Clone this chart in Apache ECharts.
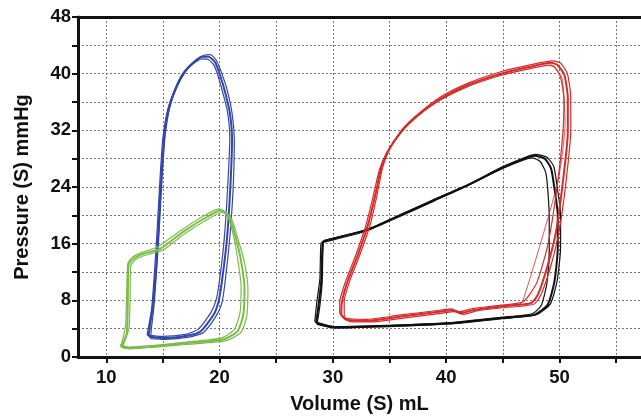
<!DOCTYPE html>
<html>
<head>
<meta charset="utf-8">
<script src="https://cdn.jsdelivr.net/npm/echarts@6/dist/echarts.min.js"></script>
<style>
  html, body { margin: 0; padding: 0; background: #fff; }
  #chart { width: 641px; height: 419px; }
</style>
</head>
<body>
<div id="chart"></div>
<script>
// PV loops, [volume mL, pressure mmHg], several cycles each
let blueLoop1 = [[13.73,2.9],[15.06,2.67],[17.12,3.0],[18.3,3.6],[19.47,5.95],[19.9,7.8],[20.2,10.6],[20.65,16.7],[20.94,23.75],[21.1,30.8],[20.9,34.5],[20.5,37.3],[20.06,39.7],[19.6,41.6],[19.03,42.4],[18.45,42.4],[17.7,41.6],[16.82,40.1],[16.1,37.8],[15.5,35.0],[15.12,31.2],[14.92,27.0],[14.7,21.4],[14.53,15.8],[14.32,11.1],[14.09,6.9],[13.82,4.1],[13.73,2.9]];
let blueLoop2 = [[13.9,2.6],[15.2,2.5],[17.3,2.8],[18.6,3.5],[19.7,5.8],[20.2,7.6],[20.5,10.8],[20.9,16.9],[21.2,23.9],[21.3,30.5],[21.1,34.4],[20.7,37.5],[20.2,40.0],[19.7,41.9],[19.2,42.7],[18.6,42.6],[17.9,41.9],[17.0,40.3],[16.2,38.0],[15.6,35.2],[15.2,31.4],[15.0,27.2],[14.8,21.6],[14.6,16.0],[14.4,11.3],[14.2,7.0],[14.0,4.3],[13.9,2.6]];
let blueLoop3 = [[13.6,3.1],[14.9,2.9],[17.0,3.2],[18.1,3.9],[19.2,6.2],[19.7,8.1],[20.0,10.9],[20.4,16.5],[20.7,23.6],[20.9,31.0],[20.7,34.6],[20.3,37.2],[19.9,39.5],[19.5,41.2],[19.0,42.0],[18.4,42.1],[17.6,41.3],[16.7,39.9],[16.0,37.6],[15.4,34.8],[15.0,31.0],[14.8,26.8],[14.6,21.2],[14.4,15.6],[14.2,10.9],[14.0,6.8],[13.7,4.0],[13.6,3.1]];

let greenLoop1 = [[11.24,1.5],[11.6,2.4],[11.83,3.6],[11.9,8.3],[11.97,13.0],[12.4,13.9],[13.3,14.6],[14.8,15.3],[16.8,17.7],[18.9,19.8],[20.06,20.7],[20.8,20.0],[21.4,17.0],[21.9,13.5],[22.2,9.7],[22.1,6.0],[21.6,3.7],[20.4,2.5],[17.12,1.97],[14.17,1.5],[12.12,1.26],[11.24,1.5]];
let greenLoop2 = [[11.4,1.3],[11.7,2.6],[12.0,4.0],[12.1,8.5],[12.15,12.8],[12.6,13.8],[13.5,14.4],[15.0,15.1],[17.0,17.5],[19.1,19.6],[20.2,20.4],[21.0,19.7],[21.6,16.8],[22.2,13.3],[22.5,9.6],[22.4,5.8],[21.9,3.5],[20.6,2.3],[17.3,1.8],[14.3,1.4],[12.2,1.15],[11.4,1.3]];
let greenLoop3 = [[11.3,1.6],[11.5,2.8],[11.7,4.5],[11.8,9.0],[11.9,13.2],[12.3,14.1],[13.2,14.8],[14.6,15.6],[16.6,17.9],[18.7,20.0],[19.95,20.9],[20.6,20.3],[21.2,17.3],[21.6,13.8],[21.9,9.9],[21.8,6.2],[21.3,3.9],[20.2,2.7],[17.0,2.1],[14.0,1.6],[12.0,1.4],[11.3,1.6]];

let redLoop1 = [[30.74,5.96],[31.18,5.26],[33.09,5.12],[36.03,5.73],[39.56,6.43],[40.5,6.6],[41.3,6.2],[42.5,6.67],[44.85,7.14],[46.6,7.4],[47.5,7.6],[48.1,8.8],[48.97,13.0],[49.7,17.7],[50.3,24.7],[50.74,31.8],[50.74,36.5],[50.44,39.8],[49.85,41.2],[49.26,41.55],[47.2,40.9],[44.85,40.0],[41.9,38.4],[39.56,36.5],[37.5,34.1],[36.03,31.8],[34.85,29.0],[34.26,26.6],[33.68,22.4],[33.09,18.6],[32.2,14.4],[31.3,10.7],[30.8,7.8],[30.74,5.96]];
let redLoop2 = [[31.0,5.7],[31.5,5.0],[33.3,4.95],[36.2,5.5],[39.7,6.2],[40.7,6.4],[41.5,6.0],[42.7,6.5],[45.0,6.95],[46.8,7.2],[47.8,7.5],[48.4,8.9],[49.3,13.2],[50.0,18.0],[50.6,25.0],[51.0,32.0],[51.0,36.6],[50.7,40.0],[50.1,41.5],[49.4,41.8],[47.3,41.2],[44.9,40.3],[42.0,38.7],[39.6,36.8],[37.6,34.4],[36.1,32.1],[35.0,29.3],[34.4,26.8],[33.85,22.5],[33.3,18.7],[32.4,14.5],[31.5,10.8],[31.0,7.9],[31.0,5.7]];
let redLoop3 = [[30.6,6.2],[31.0,5.5],[32.9,5.3],[35.8,5.9],[39.4,6.6],[40.4,6.8],[41.2,6.4],[42.3,6.85],[44.7,7.3],[46.8,7.8],[48.0,10.5],[49.0,16.0],[49.85,24.7],[50.3,31.5],[50.4,36.3],[50.1,39.5],[49.6,40.9],[49.1,41.2],[47.1,40.6],[44.7,39.7],[41.8,38.1],[39.4,36.2],[37.3,33.8],[35.9,31.5],[34.7,28.7],[34.1,26.4],[33.5,22.3],[32.9,18.5],[32.0,14.3],[31.1,10.6],[30.6,7.7],[30.6,6.2]];
let redStray = [[49.3,41.3],[50.2,39.5],[50.5,33.0],[49.85,24.7],[46.76,7.84],[46.3,7.3]];

let blackLoop1 = [[28.53,4.8],[28.75,7.5],[28.97,10.66],[29.1,16.3],[29.26,16.4],[32.5,17.7],[33.38,18.17],[36.03,20.05],[38.97,22.16],[41.9,24.27],[44.85,26.6],[46.9,28.0],[47.8,28.4],[48.7,28.0],[49.26,26.6],[49.56,23.8],[49.85,20.05],[49.85,15.35],[49.56,10.66],[48.97,7.4],[47.8,5.96],[44.85,5.5],[40.7,4.8],[36.03,4.46],[30.15,4.18],[28.53,4.8]];
let blackLoop2 = [[28.4,5.0],[28.6,8.0],[28.85,11.0],[28.95,16.1],[29.2,16.2],[32.4,17.5],[33.3,18.0],[36.0,19.9],[38.9,22.0],[41.8,24.1],[44.8,26.5],[46.8,27.8],[47.6,28.1],[48.3,27.6],[48.8,26.0],[49.0,23.0],[49.1,19.5],[49.1,15.0],[48.9,10.5],[48.4,7.3],[47.6,6.1],[44.8,5.6],[40.7,4.9],[36.0,4.55],[30.1,4.3],[28.4,5.0]];
let blackLoop3 = [[28.6,4.6],[28.85,7.2],[29.05,10.4],[29.15,16.0],[29.4,16.5],[32.6,17.8],[33.5,18.3],[36.1,20.2],[39.0,22.3],[42.0,24.4],[44.9,26.8],[47.0,28.2],[47.9,28.6],[48.9,28.2],[49.5,26.9],[49.8,24.0],[50.1,20.2],[50.1,15.5],[49.8,10.8],[49.2,7.5],[48.0,6.0],[44.9,5.4],[40.7,4.7],[36.0,4.35],[30.2,4.1],[28.6,4.6]];

let xLabelStep = 10;
let yLabelStep = 8;

function loop(data, color, width) {
  return {
    type: 'line',
    data: data,
    smooth: 0.2,
    showSymbol: false,
    silent: true,
    lineStyle: {color: color, width: width}
  };
}

let font = {fontFamily: 'Liberation Sans', fontWeight: 'bold', fontSize: 18.5, color: '#111'};
let titleFont = Object.assign({}, font, {fontSize: 20});
let gridLine = {show: true, lineStyle: {color: '#777', type: [2, 2], width: 1}};

let chart = echarts.init(document.getElementById('chart'));
chart.setOption({
  animation: false,
  grid: {left: 78, top: 17, right: 0, bottom: 60},
  xAxis: [{
    type: 'value',
    min: 7.5,
    max: 57.2,
    minInterval: 5,
    maxInterval: 5,
    name: 'Volume (S) mL',
    nameLocation: 'middle',
    nameGap: 37,
    nameTextStyle: titleFont,
    axisLine: {lineStyle: {color: '#111', width: 3}},
    axisTick: {length: 6, lineStyle: {color: '#111', width: 2}},
    axisLabel: Object.assign({}, font, {
      margin: 11,
      showMinLabel: false,
      showMaxLabel: false,
      formatter: v => (v % xLabelStep === 0 ? v : '')
    }),
    splitLine: gridLine
  }, {
    type: 'value',
    position: 'top',
    min: 7.5,
    max: 57.2,
    axisLine: {show: true, lineStyle: {color: '#111', width: 3}},
    axisTick: {show: false},
    axisLabel: {show: false},
    splitLine: {show: false}
  }],
  yAxis: {
    type: 'value',
    min: 0,
    max: 48,
    interval: 4,
    name: 'Pressure (S) mmHg',
    nameLocation: 'middle',
    nameGap: 46,
    nameTextStyle: titleFont,
    axisLine: {show: true, lineStyle: {color: '#111', width: 3}},
    axisTick: {show: true, length: 6, lineStyle: {color: '#111', width: 2}},
    axisLabel: Object.assign({}, font, {
      margin: 7,
      formatter: v => (v % yLabelStep === 0 ? v : '')
    }),
    splitLine: gridLine
  },
  series: [
    loop(blueLoop1, '#3446a6', 2),
    loop(blueLoop2, '#3446a6', 1.2),
    loop(blueLoop3, '#3446a6', 1.2),
    loop(greenLoop1, '#7cbb48', 2),
    loop(greenLoop2, '#7cbb48', 1.2),
    loop(greenLoop3, '#7cbb48', 1.2),
    loop(blackLoop1, '#111', 2),
    loop(blackLoop2, '#111', 1.2),
    loop(blackLoop3, '#111', 1.2),
    loop(redLoop1, '#d42b2b', 2),
    loop(redLoop2, '#d42b2b', 1.2),
    loop(redLoop3, '#d42b2b', 1.2),
    loop(redStray, '#d42b2b', 0.8)
  ]
});
</script>
</body>
</html>
